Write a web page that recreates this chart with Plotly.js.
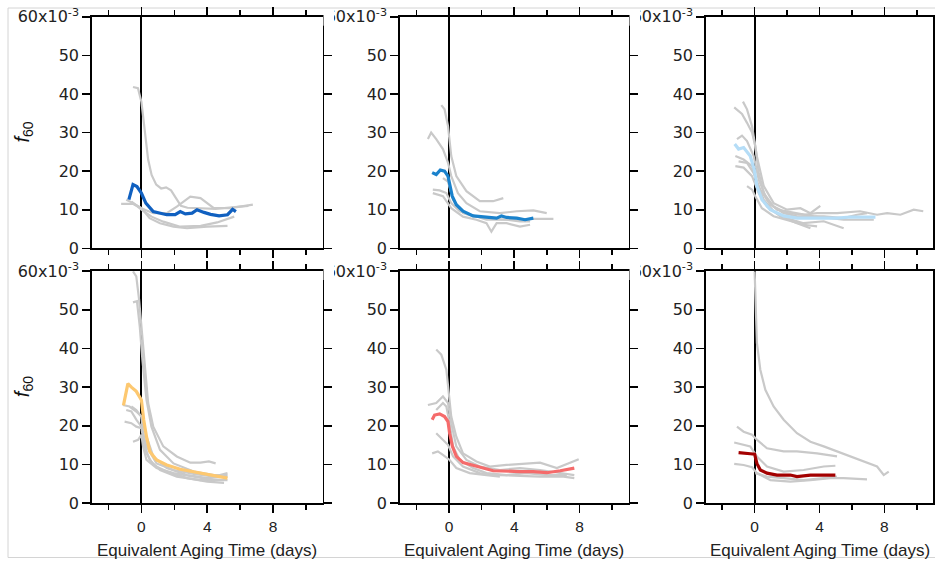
<!DOCTYPE html>
<html>
<head>
<meta charset="utf-8">
<script src="https://cdn.plot.ly/plotly-3.0.1.min.js"></script>
<style>html,body{margin:0;padding:0;background:#fff;}#chart{width:935px;height:564px;}</style>
</head>
<body>
<div id="chart"></div>
<script>
// f60 values are in units of 1e-3; x = equivalent aging time (days)
// Panel 1 (top-left, blue)
const p1MeanX = [-0.76,-0.51,-0.27,0,0.27,0.72,1.54,2.05,2.36,2.67,3.08,3.38,3.8,4.2,4.72,5.23,5.54,5.74];
const p1MeanY = [12.6,16.5,16.0,14.3,11.7,9.5,8.7,8.7,9.5,8.9,9.1,10.0,9.3,8.8,8.4,8.7,10.1,9.5];
const p1GrayX = [
  [-0.51,-0.21,0,0.2,0.41,0.62,0.9,1.2,1.5,1.8,2.1,2.4,2.8,3.5,4.5,5.2,5.8,6.5],
  [-1.23,-0.5,0,0.72,1.54,2.15,2.97,3.59,4.4,5.4,6.77],
  [-0.92,-0.5,0,0.5,1.13,1.95,2.77,4.0,5.23],
  [-0.6,0,0.62,1.33,2.36,3.6,4.6,5.64]
];
const p1GrayY = [
  [41.8,41.5,38,31,23,19,16.5,15.5,15.8,15,13,11,10.5,10.3,10.2,10.5,10.8,11],
  [11.5,11.5,10.4,9.1,9.1,10.8,13.4,13.0,10.4,10.4,11.3],
  [12.6,11.7,10.4,7.8,6.5,5.6,5.2,5.6,5.8],
  [12.1,10.0,8.2,6.9,5.6,5.8,6.7,8.2]
];
// Panel 2 (top-middle, medium blue)
const p2MeanX = [-1.03,-0.78,-0.53,-0.27,-0.06,0.08,0.2,0.45,0.86,1.48,2.3,2.92,3.22,3.53,4.15,4.66,5.17];
const p2MeanY = [19.6,19.1,20.3,20.0,18.7,16.1,13.5,11.3,9.6,8.4,8.1,7.8,8.4,8.0,7.8,7.4,7.8];
const p2GrayX = [
  [-0.47,-0.27,-0.06,0.14,0.45,1.07,1.89,2.7,3.33],
  [-1.29,-1.09,-0.78,-0.37,-0.06,0.14,0.55,1.07,1.89,3.12,4.15,5.17,5.99],
  [-0.99,-0.57,-0.16,0.14,0.66,1.48,2.3,3.12,4.15,5.17,6.4],
  [-0.99,-0.37,0.14,0.86,1.68,2.3,2.6,2.92,3.53,4.35,4.97],
  [-0.37,-0.06,0.25,0.86,1.48,2.3,3.53,4.35,4.97]
];
const p2GrayY = [
  [37.1,36.0,31.7,23.9,18.7,14.8,12.2,12.2,13.0],
  [28.3,30.0,28.3,25.7,22.2,18.7,14.3,11.7,9.6,9.1,9.6,9.8,9.1],
  [15.2,15.0,14.3,11.7,9.6,8.4,7.4,7.4,7.4,7.6,7.6],
  [14.3,13.5,10.4,8.2,7.4,6.5,4.3,6.5,6.5,5.6,6.1],
  [18.2,17.3,12.6,9.1,8.3,7.8,7.4,7.0,7.0]
];
// Panel 3 (top-right, light blue)
const p3MeanX = [-1.23,-0.99,-0.68,-0.27,-0.02,0.14,0.45,0.97,1.79,2.61,3.85,5.08,5.9,6.73,7.45];
const p3MeanY = [27.0,25.7,26.1,23.9,20.4,16.1,12.6,10.0,8.4,7.8,7.8,7.8,8.1,8.1,8.1];
const p3GrayX = [
  [-1.26,-0.78,-0.47,-0.16,0.04,0.25,0.56,1.17,2.0,3.02,3.85,5.08,6.5,7.55,8.17,8.99,9.81,10.4],
  [-0.72,-0.47,-0.16,0.14,0.56,1.17,2.0,2.82,3.44,4.05],
  [-1.09,-0.78,-0.47,-0.06,0.25,0.76,1.38,2.61,3.64,5.49,7.35],
  [-1.19,-0.68,-0.16,0.14,0.56,1.17,2.0,3.02,4.26,5.49],
  [-1.19,-0.68,-0.16,0.25,0.76,1.58,2.61,3.44],
  [-0.47,-0.16,0.04,0.45,1.17,2.2,3.02,3.85],
  [-0.99,-0.47,-0.06,0.35,0.97,1.79,2.61,4.26,5.49,6.32,6.93]
];
const p3GrayY = [
  [36.5,34.8,32.5,30.0,26.5,19.6,14.3,10.8,9.1,8.7,9.1,9.1,9.6,8.7,9.1,8.7,10.0,9.6],
  [38.0,36.0,31.6,23.8,16.1,11.7,10.0,10.4,9.1,11.0],
  [28.3,29.2,27.8,23.9,17.8,12.6,10.0,9.1,8.3,7.4,7.4],
  [23.9,23.0,21.3,17.0,12.6,9.6,7.8,6.5,7.0,5.2],
  [21.3,20.9,18.7,14.3,10.8,8.3,6.5,5.2],
  [16.1,15.2,13.5,10.4,8.3,7.0,6.1,5.7],
  [22.5,22.1,19.5,15.2,11.3,9.1,8.3,8.3,7.8,8.7,9.1]
];
// Panel 4 (bottom-left, orange)
const p4MeanX = [-1.09,-0.82,-0.61,-0.31,0,0.14,0.31,0.51,0.92,1.54,2.36,3.59,4.61,5.23];
const p4MeanY = [25.3,30.9,30.0,28.9,26.7,21.6,17.2,13.4,11.2,9.9,8.8,7.8,7.1,6.5];
const p4GrayX = [
  [-0.51,-0.31,-0.14,0.06,0.2,0.41,0.72,1.33,2.15,2.97,3.59,4.1,4.51],
  [-0.51,-0.27,-0.1,0.06,0.31,0.61,1.13,1.95,3.18,4.41,5.23],
  [-1.13,-0.72,-0.31,0,0.31,0.72,1.54,2.77,4.0,5.23],
  [-0.61,-0.31,0,0.1,0.31,0.72,1.54,2.77,4.0,5.02],
  [-1.02,-0.61,-0.31,0,0.2,0.51,1.13,2.15,3.59,5.23],
  [-0.51,-0.2,0,0.1,0.31,0.92,1.95,3.18,4.41],
  [-0.92,-0.61,-0.31,0,0.31,0.92,1.95,3.18,4.41,5.23]
];
const p4GrayY = [
  [59.9,58.6,52.6,43.1,34.5,25.9,19.8,14.7,12.1,10.5,10.5,10.8,10.3],
  [51.9,52.2,45.7,37.1,26.7,19.8,13.8,10.3,8.2,7.3,7.3],
  [25.4,25.0,23.7,22.4,17.2,12.1,9.1,7.3,6.5,6.9],
  [25.0,24.1,22.4,18.1,12.9,9.9,8.2,6.5,5.6,5.3],
  [21.1,20.7,19.8,19.4,14.7,11.2,8.6,6.9,6.0,6.0],
  [15.9,16.4,17.7,14.7,11.2,9.1,7.8,6.9,6.0],
  [24.1,23.7,21.6,19.8,14.7,10.3,8.6,7.6,6.9,7.8]
];
// Panel 5 (bottom-middle, red)
const p5MeanX = [-1.03,-0.88,-0.57,-0.27,-0.06,0.04,0.21,0.45,0.86,1.48,2.09,2.71,3.53,4.35,5.17,5.99,6.82,7.68];
const p5MeanY = [21.6,22.8,23.1,22.4,21.1,18.1,14.7,12.1,10.5,9.9,9.1,8.4,8.2,8.2,8.2,7.9,8.4,9.1];
const p5GrayX = [
  [-0.78,-0.47,-0.16,0,0.14,0.45,0.86,1.68,2.5,3.53,4.76,5.58,6.61,7.95],
  [-1.29,-0.78,-0.37,-0.06,0.14,0.45,1.07,1.89,3.12,4.35,5.58,6.82,7.68],
  [-0.78,-0.37,-0.16,0.04,0.25,0.66,1.48,2.3,3.53,4.76,5.99,7.22],
  [-0.78,-0.37,-0.06,0.25,0.86,1.89,3.12,4.35,5.58,7.02,7.68],
  [-1.03,-0.68,-0.37,0.04,0.45,1.27,2.3,3.12]
];
const p5GrayY = [
  [39.7,38.4,34.5,28.4,22.4,17.2,12.9,10.8,9.5,9.9,10.3,10.5,9.1,11.4],
  [25.4,25.9,27.6,25.9,20.7,14.7,11.2,9.5,8.6,9.1,8.6,7.8,7.3],
  [24.1,25.9,25.0,20.7,14.7,11.2,9.1,7.8,7.3,7.8,7.3,7.3],
  [18.1,16.4,15.1,12.1,9.5,7.8,7.3,7.1,6.9,6.9,6.5],
  [12.9,13.4,12.5,11.2,9.1,7.8,7.3,6.9]
];
// Panel 6 (bottom-right, dark red)
const p6MeanX = [-0.99,-0.68,-0.27,0,0.14,0.35,0.76,1.38,2.2,2.61,3.44,4.26,4.98];
const p6MeanY = [13.1,12.9,12.8,12.7,10.3,8.6,7.8,7.3,7.3,6.9,7.3,7.3,7.3];
const p6GrayX = [
  [0,0.04,0.14,0.35,0.66,1.17,1.79,2.61,3.44,4.26,5.08,5.9,6.73,7.55,7.96,8.27],
  [-1.09,-0.68,-0.16,0.14,0.76,1.79,2.61,3.85,5.08],
  [-1.26,-0.78,-0.27,0.14,0.76,1.79,3.02,4.26,4.98],
  [-1.26,-0.68,-0.16,0.14,0.97,2.2,3.44,4.67,5.49,6.93],
  [0.04,0.76,1.79,3.02,4.26,5.08]
];
const p6GrayY = [
  [59.9,52.6,41.4,34.5,29.3,25.0,21.6,18.1,15.9,14.7,13.4,12.1,10.8,9.5,7.3,8.2],
  [19.8,18.5,17.7,16.4,14.2,13.4,13.4,12.9,12.1],
  [15.7,15.3,14.7,12.1,9.5,8.2,8.6,9.5,9.7],
  [10.2,9.9,9.3,7.8,6.0,5.6,6.0,6.5,6.5,6.2],
  [7.8,6.9,6.5,6.0,6.5,6.9]
];

const meanColors = ['#1060c0', '#1a82cc', '#b5ddf7', '#fdc870', '#f56b6b', '#a30000'];
const yTickVals = [0, 10, 20, 30, 40, 50, 60];
const yTickText = ['0', '10', '20', '30', '40', '50', '60x10<sup>-3</sup>'];
const xTickVals = [0, 4, 8];
const xTitle = 'Equivalent Aging Time (days)';
const yTitle = '<i>f</i><sub>60</sub>';

const panels = [
  {mx: p1MeanX, my: p1MeanY, gx: p1GrayX, gy: p1GrayY},
  {mx: p2MeanX, my: p2MeanY, gx: p2GrayX, gy: p2GrayY},
  {mx: p3MeanX, my: p3MeanY, gx: p3GrayX, gy: p3GrayY},
  {mx: p4MeanX, my: p4MeanY, gx: p4GrayX, gy: p4GrayY},
  {mx: p5MeanX, my: p5MeanY, gx: p5GrayX, gy: p5GrayY},
  {mx: p6MeanX, my: p6MeanY, gx: p6GrayX, gy: p6GrayY}
];

const W = 935, H = 564;
const colPx = [[92, 322.5], [400, 628.5], [706, 933]];
const rowPx = [[16.7, 248.3], [271, 503.3]];

const traces = [];
const layout = {
  width: W, height: H,
  margin: {l: 0, r: 0, t: 0, b: 0},
  paper_bgcolor: '#ffffff', plot_bgcolor: '#ffffff',
  showlegend: false,
  font: {family: 'Liberation Sans, Arial, sans-serif', color: '#222222', size: 14},
  annotations: [],
  shapes: []
};

panels.forEach((p, i) => {
  const n = i + 1;
  const xa = n === 1 ? 'x' : 'x' + n;
  const ya = n === 1 ? 'y' : 'y' + n;
  const row = Math.floor(i / 3), col = i % 3;
  p.gx.forEach((gx, k) => {
    traces.push({x: gx, y: p.gy[k], xaxis: xa, yaxis: ya, type: 'scatter', mode: 'lines',
      line: {color: '#c9c9c9', width: 2.2}, hoverinfo: 'skip'});
  });
  traces.push({x: p.mx, y: p.my, xaxis: xa, yaxis: ya, type: 'scatter', mode: 'lines',
    line: {color: meanColors[i], width: 3.2}, hoverinfo: 'skip'});

  const xd = [colPx[col][0] / W, colPx[col][1] / W];
  const yd = [1 - rowPx[row][1] / H, 1 - rowPx[row][0] / H];
  layout['xaxis' + (n === 1 ? '' : n)] = {
    domain: xd, anchor: ya, range: [-3, 11],
    tickmode: 'array', tickvals: xTickVals,
    showticklabels: row === 1,
    ticks: 'outside', ticklen: 8, tickwidth: 1.6, tickcolor: '#000',
    minor: {tickmode: 'array', tickvals: [-2, 2, 6, 10], ticks: 'outside', ticklen: 5, tickwidth: 1.6, tickcolor: '#000'},
    showline: true, linecolor: '#000', linewidth: 1.8, mirror: 'ticks',
    showgrid: false, zeroline: true, zerolinecolor: '#000', zerolinewidth: 1.8,
    tickfont: {family: 'Liberation Sans, Arial, sans-serif', size: 15.5, color: '#222'}
  };
  layout['yaxis' + (n === 1 ? '' : n)] = {
    domain: yd, anchor: xa, range: [0, 60],
    tickmode: 'array', tickvals: yTickVals, ticktext: yTickText,
    ticks: 'outside', ticklen: 8, tickwidth: 1.6, tickcolor: '#000',
    showline: true, linecolor: '#000', linewidth: 1.8, mirror: 'ticks',
    showgrid: false, zeroline: false,
    tickfont: {family: 'DejaVu Sans, sans-serif', size: 16, color: '#222'}
  };
  if (row === 1) {
    layout.annotations.push({text: xTitle, xref: 'paper', yref: 'paper',
      x: (colPx[col][0] + colPx[col][1]) / 2 / W, y: 1 - 550 / H,
      xanchor: 'center', yanchor: 'middle', showarrow: false,
      font: {size: 17, color: '#222'}});
  }
  if (col === 0) {
    layout.annotations.push({text: yTitle, xref: 'paper', yref: 'paper',
      x: 23 / W, y: 1 - ((rowPx[row][0] + rowPx[row][1]) / 2) / H,
      xanchor: 'center', yanchor: 'middle', showarrow: false, textangle: -90,
      font: {size: 20, color: '#111'}});
  }
  // the neighbouring panel hides the left edge of this panel's top tick label
  if (col > 0) {
    const edge = colPx[col - 1][1];
    layout.shapes.push({type: 'rect', xref: 'paper', yref: 'paper', layer: 'above',
      x0: (edge + 1) / W, x1: (edge + 11.5) / W,
      y0: 1 - (rowPx[row][0] + 9) / H, y1: 1 - (rowPx[row][0] - 7) / H,
      line: {width: 0}, fillcolor: '#ffffff'});
  }
});

// thin outer frame
layout.shapes.push({type: 'rect', xref: 'paper', yref: 'paper',
  x0: 8 / W, x1: 1.01, y0: 1 - 557.5 / H, y1: 1 - 8 / H,
  line: {color: '#d4d4d4', width: 1}, layer: 'below'});

Plotly.newPlot('chart', traces, layout, {staticPlot: true, displayModeBar: false});
</script>
</body>
</html>
